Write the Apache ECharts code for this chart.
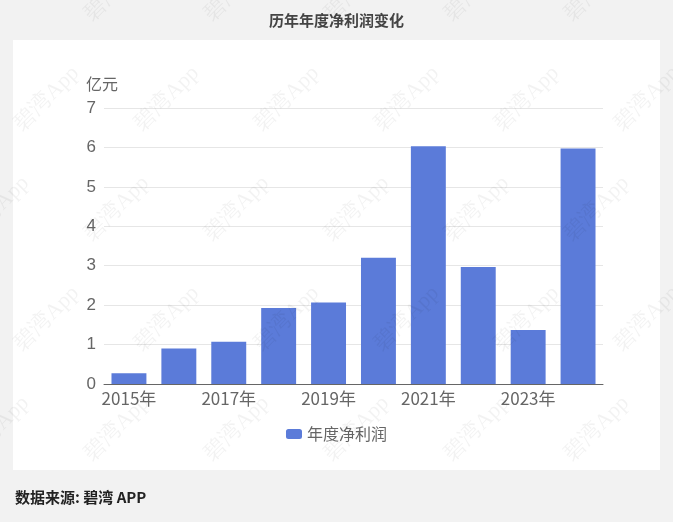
<!DOCTYPE html>
<html><head><meta charset="utf-8">
<script src="https://cdn.jsdelivr.net/npm/echarts@6/dist/echarts.min.js"></script>
<style>html,body{margin:0;padding:0;background:#f2f2f2;}#c{width:673px;height:522px;}</style>
</head><body><div id="c"></div>
<script>
const categories = ['2015年','2016年','2017年','2018年','2019年','2020年','2021年','2022年','2023年','2024年'];
const netProfit = [0.27, 0.9, 1.07, 1.93, 2.07, 3.2, 6.03, 2.97, 1.37, 5.97];
const chart = echarts.init(document.getElementById('c'));
const wm = [];
for (let r = 0; r < 5; r++) for (let k = 0; k < 6; k++) {
  wm.push({type:'text', x: -40 + k*120 + (r%2)*50, y: 10 + r*110, rotation: Math.PI/4,
    style:{text:'碧湾App', font:'22px serif', fill:'rgba(0,0,0,0.05)'}, z:100, silent:true});
}
chart.setOption({
  backgroundColor:'#f2f2f2',
  title:{text:'历年年度净利润变化', left:'center', top:8, textStyle:{fontSize:15, fontWeight:'bold', color:'#444', fontFamily:'Noto Sans CJK SC'}},
  graphic:[
    {type:'rect', shape:{x:13,y:40,width:647,height:430}, style:{fill:'#fff'}, z:-10},
    {type:'text', left:15, top:490, style:{text:'数据来源: 碧湾 APP', font:'bold 15px "Noto Sans CJK SC"', fill:'#222'}}
  ].concat(wm),
  legend:{data:['年度净利润'], top:421, left:'center', itemWidth:16, itemHeight:10,
    textStyle:{fontSize:16, color:'#666', fontFamily:'Noto Sans CJK SC'}},
  grid:{left:104, right:70, top:108, bottom:138},
  xAxis:{type:'category', data:categories,
    axisLine:{lineStyle:{color:'#666'}}, axisTick:{lineStyle:{color:'#666'}},
    axisLabel:{fontSize:17, color:'#666', interval:1, fontFamily:'Noto Sans CJK SC', margin:6}},
  yAxis:{type:'value', min:0, max:7, interval:1, name:'亿元', nameGap:16,
    nameTextStyle:{fontSize:16, color:'#666', align:'right', padding:[0,-14,0,0], fontFamily:'Noto Sans CJK SC'},
    axisLabel:{fontSize:17, color:'#666'}, splitLine:{lineStyle:{color:'#e6e6e6'}}},
  series:[{name:'年度净利润', type:'bar', data:netProfit, barWidth:'70%', itemStyle:{color:'#5b7bd9'}}]
});
</script></body></html>
